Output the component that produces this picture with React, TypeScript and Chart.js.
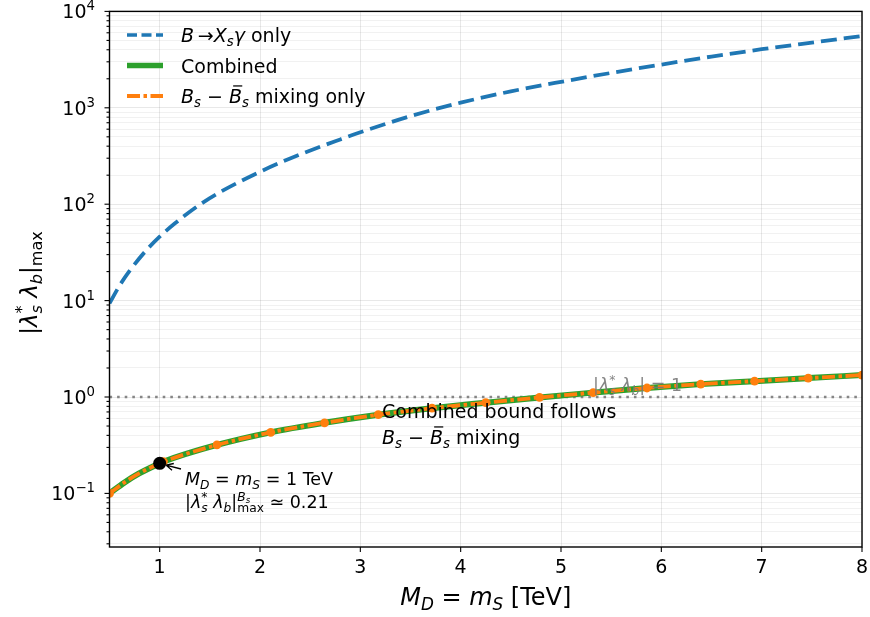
import React, { useEffect, useRef } from "react";
import { Chart, registerables } from "chart.js";
Chart.register(...registerables);

const FONT = '"DejaVu Sans", "Liberation Sans", sans-serif';

// ---- axis ranges / ticks ----
const X_MIN = 0.5;
const X_MAX = 8;
const Y_MIN = 0.0278;
const Y_MAX = 10000;
const X_TICKS = [1, 2, 3, 4, 5, 6, 7, 8];
const X_TICK_LABELS = ["1", "2", "3", "4", "5", "6", "7", "8"];
const Y_TICK_EXPONENTS = [-1, 0, 1, 2, 3, 4];

// ---- B -> Xs gamma only ----
const BSG_MASS = [0.5, 0.6, 0.7, 0.85, 1.0, 1.15, 1.4, 1.6, 2.0, 2.3, 2.8, 3.0, 3.5, 4.0, 4.5, 5.0, 5.5, 6.0, 6.5, 7.0, 7.5, 8.0];
const BSG_LIMIT = [9.35, 14.3, 20.3, 31.8, 46, 63, 99, 133, 217, 298, 470, 557, 820, 1130, 1480, 1860, 2300, 2810, 3400, 4050, 4750, 5550];

// ---- Bs - Bsbar mixing only ----
const MIX_MASS = [0.5, 0.65, 0.8, 1.0, 1.036, 1.571, 2.107, 2.643, 3.179, 3.714, 4.25, 4.786, 5.321, 5.857, 6.393, 6.929, 7.464, 8.0];
const MIX_LIMIT = [0.1, 0.13, 0.162, 0.205, 0.213, 0.318, 0.43, 0.54, 0.655, 0.765, 0.873, 0.99, 1.11, 1.24, 1.36, 1.46, 1.57, 1.69];
const MIX_MARKED = [true, false, false, false, true, true, true, true, true, true, true, true, true, true, true, true, true, true];

// ---- Combined (follows mixing) ----
const COMBINED_MASS = [0.5, 0.65, 0.8, 1.0, 1.036, 1.571, 2.107, 2.643, 3.179, 3.714, 4.25, 4.786, 5.321, 5.857, 6.393, 6.929, 7.464, 8.0];
const COMBINED_LIMIT = [0.1, 0.13, 0.162, 0.205, 0.213, 0.318, 0.43, 0.54, 0.655, 0.765, 0.873, 0.99, 1.11, 1.24, 1.36, 1.46, 1.57, 1.69];

// ---- reference level & benchmark ----
const UNIT_LEVEL = 1;
const BENCH_MASS = 1;
const BENCH_LIMIT = 0.205;

const BLUE = "#1f77b4";
const ORANGE = "#ff7f0e";
const GREEN = "#2ca02c";
const ORANGE_DASH = [13, 3.5, 3.5, 3.5];

type Run = { t?: string; it?: boolean; bar?: boolean; sup?: Run[]; sub?: Run[] };

function setFont(ctx: CanvasRenderingContext2D, size: number, it?: boolean) {
  ctx.font = `${it ? "italic " : ""}${size}px ${FONT}`;
}
function runsWidth(ctx: CanvasRenderingContext2D, runs: Run[], size: number): number {
  let w = 0;
  for (const r of runs) {
    if (r.sup || r.sub) {
      const s = size * 0.7;
      w += Math.max(r.sup ? runsWidth(ctx, r.sup, s) : 0, r.sub ? runsWidth(ctx, r.sub, s) : 0);
    } else {
      setFont(ctx, size, r.it);
      w += ctx.measureText(r.t || "").width;
    }
  }
  return w;
}
function drawRuns(ctx: CanvasRenderingContext2D, runs: Run[], x: number, y: number, size: number): number {
  for (const r of runs) {
    if (r.sup || r.sub) {
      const s = size * 0.7;
      const w1 = r.sup ? drawRuns(ctx, r.sup, x, y - 0.42 * size, s) - x : 0;
      const w2 = r.sub ? drawRuns(ctx, r.sub, x, y + 0.2 * size, s) - x : 0;
      x += Math.max(w1, w2);
    } else {
      setFont(ctx, size, r.it);
      const t = r.t || "";
      ctx.fillText(t, x, y);
      const w = ctx.measureText(t).width;
      if (r.bar) ctx.fillRect(x + 0.22 * size, y - 0.93 * size, w * 0.7, Math.max(1.2, size * 0.065));
      x += w;
    }
  }
  return x;
}

const sub = (t: string, it = true): Run => ({ sub: [{ t, it }] });

const LEGEND_BSG: Run[] = [{ t: "B", it: true }, { t: "\u2009\u2192" }, { t: "X", it: true }, sub("s"), { t: "\u03b3", it: true }, { t: " only" }];
const LEGEND_COMB: Run[] = [{ t: "Combined" }];
const LEGEND_MIX: Run[] = [{ t: "B", it: true }, sub("s"), { t: " \u2212 " }, { t: "B", it: true, bar: true }, sub("s"), { t: " mixing only" }];
const Y_TITLE: Run[] = [{ t: "|" }, { t: "\u03bb", it: true }, { sup: [{ t: "*" }], sub: [{ t: "s", it: true }] }, { t: " " }, { t: "\u03bb", it: true }, sub("b"), { t: "|" }, sub("max", false)];
const X_TITLE: Run[] = [{ t: "M", it: true }, sub("D"), { t: " = " }, { t: "m", it: true }, sub("S"), { t: " [TeV]" }];
const NOTE1_A: Run[] = [{ t: "Combined bound follows" }];
const NOTE1_B: Run[] = [{ t: "B", it: true }, sub("s"), { t: " \u2212 " }, { t: "B", it: true, bar: true }, sub("s"), { t: " mixing" }];
const NOTE2_A: Run[] = [{ t: "M", it: true }, sub("D"), { t: " = " }, { t: "m", it: true }, sub("S"), { t: " = 1 TeV" }];
const NOTE2_B: Run[] = [{ t: "|" }, { t: "\u03bb", it: true }, { sup: [{ t: "*" }], sub: [{ t: "s", it: true }] }, { t: " " }, { t: "\u03bb", it: true }, sub("b"), { t: "|" }, { sup: [{ t: "B", it: true }, sub("s")], sub: [{ t: "max" }] }, { t: " \u2243 0.21" }];
const UNIT_NOTE: Run[] = [{ t: "|" }, { t: "\u03bb", it: true }, { sup: [{ t: "*" }], sub: [{ t: "s", it: true }] }, { t: " " }, { t: "\u03bb", it: true }, sub("b"), { t: "| = 1" }];

const decor = {
  id: "decor",
  afterDraw(chart: any) {
    const ctx: CanvasRenderingContext2D = chart.ctx;
    const { left, right, top, bottom } = chart.chartArea;
    const xs = chart.scales.x;
    const ys = chart.scales.y;
    ctx.save();
    // spines
    ctx.strokeStyle = "#000";
    ctx.lineWidth = 1.4;
    ctx.strokeRect(left, top, right - left, bottom - top);
    // y ticks
    ctx.lineWidth = 1.1;
    for (const tk of ys.ticks) {
      const py = ys.getPixelForValue(tk.value);
      const len = tk.major ? 5 : 3;
      ctx.beginPath();
      ctx.moveTo(left - len, py);
      ctx.lineTo(left, py);
      ctx.stroke();
    }
    // x ticks
    X_TICKS.forEach((v, i) => {
      const px = xs.getPixelForValue(v);
      ctx.beginPath();
      ctx.moveTo(px, bottom);
      ctx.lineTo(px, bottom + 5);
      ctx.stroke();
      ctx.fillStyle = "#000";
      setFont(ctx, 19);
      ctx.textAlign = "center";
      ctx.textBaseline = "alphabetic";
      ctx.fillText(X_TICK_LABELS[i], px, 573);
    });
    ctx.textAlign = "left";
    ctx.textBaseline = "alphabetic";
    ctx.fillStyle = "#000";
    // y tick labels
    for (const e of Y_TICK_EXPONENTS) {
      const py = ys.getPixelForValue(Math.pow(10, e));
      const runs: Run[] = [{ t: "10" }, { sup: [{ t: e < 0 ? "\u2212" + -e : String(e) }] }];
      const w = runsWidth(ctx, runs, 19);
      drawRuns(ctx, runs, 95 - w, py + 7, 19);
    }
    // axis titles
    const xw = runsWidth(ctx, X_TITLE, 24);
    drawRuns(ctx, X_TITLE, (left + right) / 2 - xw / 2, 605, 24);
    ctx.save();
    ctx.translate(37, 283);
    ctx.rotate(-Math.PI / 2);
    const yw = runsWidth(ctx, Y_TITLE, 23);
    drawRuns(ctx, Y_TITLE, -yw / 2, 0, 23);
    ctx.restore();

    // legend
    const rows: [Run[], string, number[], number][] = [
      [LEGEND_BSG, BLUE, [10, 4.5], 3.5],
      [LEGEND_COMB, GREEN, [], 5.5],
      [LEGEND_MIX, ORANGE, ORANGE_DASH, 3.8],
    ];
    rows.forEach(([runs, color, dash, lw], i) => {
      const cy = 35 + i * 30.5;
      ctx.strokeStyle = color;
      ctx.lineWidth = lw;
      ctx.setLineDash(dash);
      ctx.beginPath();
      ctx.moveTo(127, cy);
      ctx.lineTo(163, cy);
      ctx.stroke();
      ctx.setLineDash([]);
      ctx.fillStyle = "#000";
      drawRuns(ctx, runs, 181, cy + 7, 19);
    });

    // gray unitarity note
    ctx.fillStyle = "rgba(120,120,120,0.9)";
    drawRuns(ctx, UNIT_NOTE, 593, 391, 17.5);

    // annotation 1
    ctx.fillStyle = "#000";
    drawRuns(ctx, NOTE1_A, 382, 418, 19);
    drawRuns(ctx, NOTE1_B, 382, 444, 19);

    // annotation 2 + arrow
    drawRuns(ctx, NOTE2_A, 185, 485, 17.5);
    drawRuns(ctx, NOTE2_B, 185, 508, 17.5);
    const bx = xs.getPixelForValue(BENCH_MASS);
    const by = ys.getPixelForValue(BENCH_LIMIT);
    const tx = 181, ty = 469;
    const dx = tx - bx, dy = ty - by;
    const d = Math.hypot(dx, dy);
    const ux = dx / d, uy = dy / d;
    const hx = bx + ux * 6.5, hy = by + uy * 6.5;
    ctx.strokeStyle = "#000";
    ctx.lineWidth = 1.3;
    ctx.beginPath();
    ctx.moveTo(tx, ty);
    ctx.lineTo(hx, hy);
    const ang = Math.atan2(uy, ux);
    for (const s of [-0.45, 0.45]) {
      ctx.moveTo(hx, hy);
      ctx.lineTo(hx + 8 * Math.cos(ang + s), hy + 8 * Math.sin(ang + s));
    }
    ctx.stroke();
    ctx.restore();
  },
};

export default function App() {
  const ref = useRef<HTMLCanvasElement | null>(null);
  useEffect(() => {
    if (!ref.current) return;
    const toPts = (xs: number[], ys: number[]) => xs.map((x, i) => ({ x, y: ys[i] }));
    const chart = new Chart(ref.current, {
      type: "line",
      data: {
        datasets: [
          {
            label: "bench",
            data: [{ x: BENCH_MASS, y: BENCH_LIMIT }],
            showLine: false,
            pointRadius: 6.5,
            pointBackgroundColor: "#000",
            pointBorderColor: "#000",
            pointBorderWidth: 0,
            clip: 0,
          } as any,
          {
            label: "mix",
            data: toPts(MIX_MASS, MIX_LIMIT),
            borderColor: ORANGE,
            backgroundColor: ORANGE,
            borderWidth: 3.8,
            borderDash: ORANGE_DASH,
            cubicInterpolationMode: "monotone",
            pointRadius: MIX_MARKED.map((m) => (m ? 4.4 : 0)),
            pointBackgroundColor: ORANGE,
            pointBorderWidth: 0,
            clip: 0,
          },
          {
            label: "comb",
            data: toPts(COMBINED_MASS, COMBINED_LIMIT),
            borderColor: GREEN,
            borderWidth: 6,
            cubicInterpolationMode: "monotone",
            pointRadius: 0,
            clip: 0,
          },
          {
            label: "bsg",
            data: toPts(BSG_MASS, BSG_LIMIT),
            borderColor: BLUE,
            borderWidth: 3.8,
            borderDash: [16, 7],
            cubicInterpolationMode: "monotone",
            pointRadius: 0,
            clip: 0,
          },
          {
            label: "unit",
            data: [
              { x: X_MIN, y: UNIT_LEVEL },
              { x: X_MAX, y: UNIT_LEVEL },
            ],
            borderColor: "rgba(128,128,128,0.95)",
            borderWidth: 2.6,
            borderDash: [2.6, 5],
            pointRadius: 0,
            clip: 0,
          },
        ],
      },
      options: {
        responsive: false,
        animation: false,
        devicePixelRatio: 1,
        layout: { padding: { top: 11.4, right: 8, left: 0, bottom: 0 } },
        plugins: { legend: { display: false }, tooltip: { enabled: false } },
        events: [],
        scales: {
          x: {
            type: "linear",
            min: X_MIN,
            max: X_MAX,
            afterBuildTicks: (s: any) => {
              s.ticks = X_TICKS.map((v) => ({ value: v }));
            },
            afterFit: (s: any) => {
              s.height = 70;
            },
            ticks: { display: false },
            border: { display: false },
            grid: { color: "rgba(0,0,0,0.09)", lineWidth: 1, drawTicks: false },
          },
          y: {
            type: "logarithmic",
            min: Y_MIN,
            max: Y_MAX,
            afterBuildTicks: (s: any) => {
              const t: any[] = [];
              for (let e = -2; e <= 4; e++) {
                for (let m = 1; m <= 9; m++) {
                  const v = m * Math.pow(10, e);
                  if (v >= Y_MIN * 0.999 && v <= Y_MAX * 1.001) t.push({ value: v, major: m === 1 });
                }
              }
              s.ticks = t;
            },
            afterFit: (s: any) => {
              s.width = 109.5;
            },
            ticks: { display: false, autoSkip: false },
            border: { display: false },
            grid: {
              color: (c: any) => (c.tick && c.tick.major ? "rgba(0,0,0,0.09)" : "rgba(0,0,0,0.055)"),
              lineWidth: 1,
              drawTicks: false,
            },
          },
        },
      } as any,
      plugins: [decor],
    });
    return () => chart.destroy();
  }, []);
  return (
    <div style={{ position: "absolute", left: 0, top: 0, width: 870, height: 617, background: "#fff" }}>
      <canvas ref={ref} width={870} height={617} />
    </div>
  );
}
